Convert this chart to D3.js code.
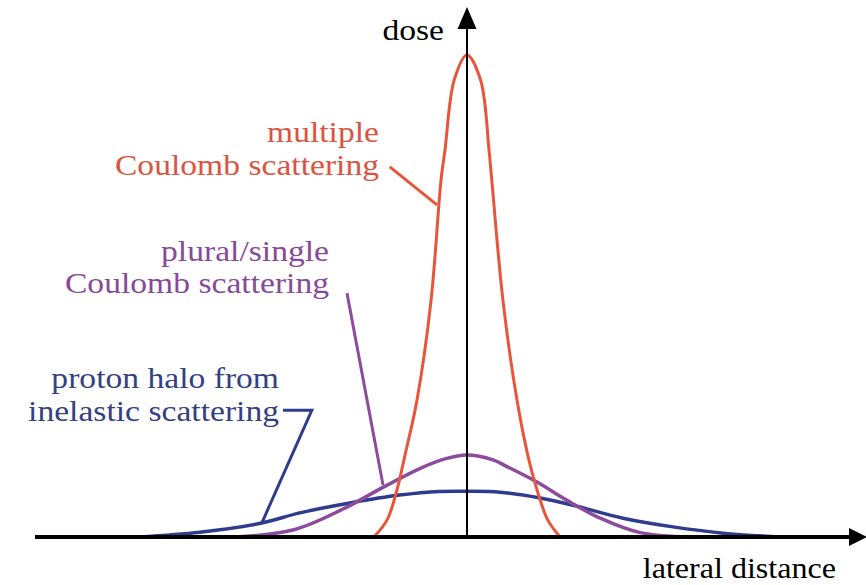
<!DOCTYPE html>
<html>
<head>
<meta charset="utf-8">
<script src="https://cdn.jsdelivr.net/npm/d3@7"></script>
<style>
	body { margin: 0; background: #fff; }
	svg { display: block; }
	.label-text { font-family: "Liberation Serif", "Times New Roman", serif; font-size: 30px; }
</style>
</head>
<body>
<div id="chart"></div>
<script>

//Lateral distance (arbitrary units, 0 = beam axis) and dose (% of peak)
var multipleX = [-2.33, -2.0, -1.75, -1.55, -1.25, -0.9, -0.65, -0.55, -0.32, 0, 0.34, 0.55, 0.62, 0.9, 1.25, 1.52, 1.75, 2.02, 2.33],
	multipleDose = [0, 3.5, 9.8, 17, 28.4, 49, 74, 80.3, 94.8, 100, 94.8, 80.3, 74, 49, 28.4, 17, 9.8, 3.5, 0];

var pluralX = [-5.8, -4.33, -3.1, -2.1, -1.18, -0.55, 0, 0.65, 1.0, 1.75, 2.5, 3.33, 4.33, 5.58],
	pluralDose = [0, 1.5, 5.8, 10.3, 14.2, 16.2, 17, 16.0, 14.6, 11.4, 7.6, 3.9, 0.9, 0];

var haloX = [-8.2, -6.68, -5.13, -4.18, -2.93, -1.68, -0.68, 0, 0.83, 1.83, 2.65, 3.9, 5.15, 6.4, 7.83],
	haloDose = [0, 1.0, 2.9, 5.0, 7.05, 8.7, 9.45, 9.5, 9.3, 8.1, 6.6, 3.9, 2.1, 0.8, 0];

var seriesNames = ["multiple", "plural", "halo"],
	seriesLabels = [["multiple", "Coulomb scattering"], ["plural/single", "Coulomb scattering"], ["proton halo from", "inelastic scattering"]];

//Leader lines from each label to its curve, [x, dose]
var multipleLeader = [[-1.93, 76.8], [-0.75, 68.9]],
	pluralLeader = [[-3.0, 50.6], [-2.1, 10.8]],
	haloLeader = [[-4.6, 26.3], [-3.88, 26.3], [-5.13, 2.9]];

var width = 866,
	height = 585;

var colors = { multiple: "#e8553b", plural: "#8c4b9d", halo: "#2f3b8d" },
	textColors = { multiple: "#dc533f", plural: "#874a97", halo: "#33417f" };

var svg = d3.select("#chart").append("svg")
	.attr("width", width)
	.attr("height", height);

var x = d3.scaleLinear().domain([-10.8, 10]).range([35, 867]),
	y = d3.scaleLinear().domain([0, 100]).range([537, 55]);

var line = d3.line()
	.x(function(d) { return x(d[0]); })
	.y(function(d) { return Math.min(y(0), y(d[1])); })
	.curve(d3.curveCatmullRom.alpha(0.5));

var leaderLine = d3.line()
	.x(function(d) { return x(d[0]); })
	.y(function(d) { return y(d[1]); });

/////////////////////// Curves //////////////////////////

var curveData = {
	multiple: d3.zip(multipleX, multipleDose),
	plural: d3.zip(pluralX, pluralDose),
	halo: d3.zip(haloX, haloDose)
};

//Draw wide ones first so the narrow peak sits on top like in the original
["halo", "plural", "multiple"].forEach(function(name) {
	svg.append("path")
		.attr("class", "curve " + name)
		.attr("d", line(curveData[name]))
		.style("fill", "none")
		.style("stroke", colors[name])
		.style("stroke-width", name === "multiple" ? 3 : 3.5)
		.style("stroke-linejoin", "round");
});

/////////////////////// Axes //////////////////////////

var x0 = x(0),
	yBase = y(0);

//Horizontal axis + arrow
svg.append("line")
	.attr("x1", x.range()[0])
	.attr("x2", x.range()[1] - 14)
	.attr("y1", yBase)
	.attr("y2", yBase)
	.style("stroke", "#000")
	.style("stroke-width", 4);
svg.append("path")
	.attr("d", "M" + (x.range()[1] - 18) + "," + (yBase - 9) + "L" + x.range()[1] + "," + yBase + "L" + (x.range()[1] - 18) + "," + (yBase + 9) + "Z")
	.style("fill", "#000");

//Vertical axis + arrow
svg.append("line")
	.attr("x1", x0)
	.attr("x2", x0)
	.attr("y1", yBase + 2)
	.attr("y2", 26)
	.style("stroke", "#000")
	.style("stroke-width", 2);
svg.append("path")
	.attr("d", "M" + (x0 - 9.5) + ",29L" + x0 + ",7L" + (x0 + 9.5) + ",29Z")
	.style("fill", "#000");

//Axis titles (text in the original is a little wider than Times, so stretch it)
var stretch = 1.12;
svg.append("text")
	.attr("class", "label-text")
	.attr("transform", "translate(" + (x0 - 23) + "," + 40 + ") scale(" + stretch + ",1)")
	.style("text-anchor", "end")
	.style("fill", "#000")
	.text("dose");
svg.append("text")
	.attr("class", "label-text")
	.attr("transform", "translate(" + 836 + "," + 578 + ") scale(" + 1.07 + ",1)")
	.style("text-anchor", "end")
	.style("fill", "#000")
	.text("lateral distance");

/////////////////////// Labels //////////////////////////

var labelPos = {
	multiple: [379, 142, 175],
	plural: [329, 261, 293],
	halo: [279, 388, 421]
};

seriesNames.forEach(function(name, i) {
	var p = labelPos[name];
	seriesLabels[i].forEach(function(t, j) {
		svg.append("text")
			.attr("class", "label-text")
			.attr("transform", "translate(" + p[0] + "," + p[j + 1] + ") scale(" + stretch + ",1)")
			.style("text-anchor", "end")
			.style("fill", textColors[name])
			.text(t);
	});
});

//Leader lines
[["multiple", multipleLeader], ["plural", pluralLeader], ["halo", haloLeader]].forEach(function(l) {
	svg.append("path")
		.attr("class", "leader " + l[0])
		.attr("d", leaderLine(l[1]))
		.style("fill", "none")
		.style("stroke", colors[l[0]])
		.style("stroke-width", 3)
		.style("stroke-linejoin", "miter");
});

</script>
</body>
</html>
